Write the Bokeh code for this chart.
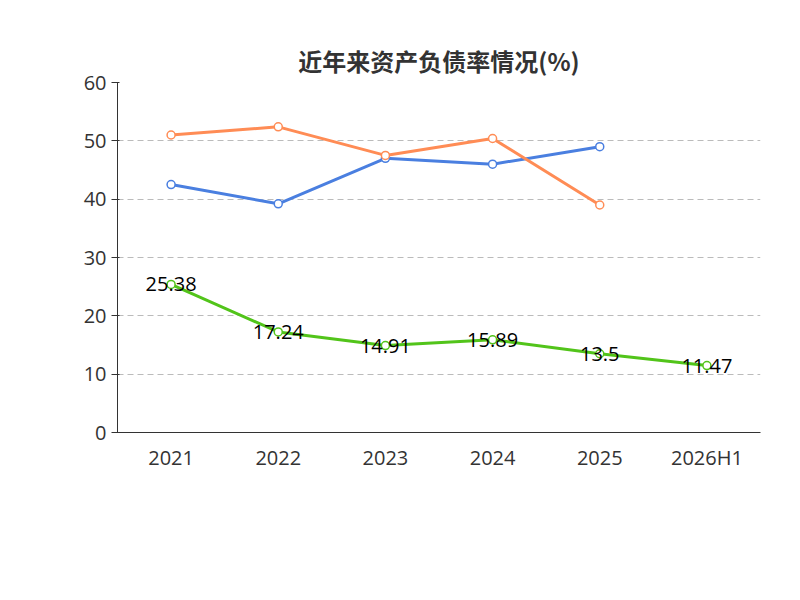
from bokeh.plotting import figure
from bokeh.models import ColumnDataSource, Legend, LegendItem, Label, FixedTicker, Range1d
from bokeh.embed import file_html
from bokeh.resources import INLINE
from bokeh.core.properties import value

years = ["2021", "2022", "2023", "2024", "2025", "2026H1"]
company = [25.38, 17.24, 14.91, 15.89, 13.5, 11.47]
industry_avg = [42.5, 39.2, 47.0, 46.0, 49.0]
industry_med = [51.0, 52.4, 47.5, 50.4, 39.0]
company_labels = ["25.38", "17.24", "14.91", "15.89", "13.5", "11.47"]

p = figure(width=784, height=584, x_range=years, y_range=Range1d(0, 60),
           output_backend="svg", toolbar_location=None,
           min_border_left=117, min_border_right=24, min_border_top=82, min_border_bottom=152)
p.outline_line_color = None
p.xgrid.grid_line_color = None
p.ygrid.grid_line_dash = "6 4"
p.ygrid.grid_line_color = "#bbbbbb"
p.yaxis.ticker = FixedTicker(ticks=[0, 10, 20, 30, 40, 50, 60])
for ax in (p.xaxis, p.yaxis):
    ax.major_label_text_font_size = "20px"
    ax.major_label_text_color = "#333333"
    ax.axis_line_color = "#333333"
    ax.major_tick_line_color = "#333333"
    ax.minor_tick_line_color = None
    ax.major_label_text_font = "Open Sans"
p.x_range.range_padding = 0
p.xaxis.major_tick_line_color = None

p.title.text = "近年来资产负债率情况(%)"
p.title.align = "center"
p.title.text_font_size = "24px"
p.title.text_color = "#333333"
p.title.text_font = "Noto Sans CJK SC"
p.title.offset = 0

s1 = ColumnDataSource(dict(x=years, y=company, t=company_labels))
s2 = ColumnDataSource(dict(x=years[:5], y=industry_avg))
s3 = ColumnDataSource(dict(x=years[:5], y=industry_med))

r1 = p.line("x", "y", source=s1, color="#52c41a", line_width=3)
c1 = p.scatter("x", "y", source=s1, size=8, fill_color="white", line_color="#52c41a", line_width=1.5)
r2 = p.line("x", "y", source=s2, color="#4a7fe0", line_width=3)
c2 = p.scatter("x", "y", source=s2, size=8, fill_color="white", line_color="#4a7fe0", line_width=1.5)
r3 = p.line("x", "y", source=s3, color="#ff8c55", line_width=3)
c3 = p.scatter("x", "y", source=s3, size=8, fill_color="white", line_color="#ff8c55", line_width=1.5)
p.text("x", "y", text="t", source=s1, text_align="center", text_baseline="middle",
       text_font_size="20px", text_color="black", text_font=value("Open Sans"))

p.add_layout(Label(x=-62, y=315, x_units="screen", y_units="screen", text="(%)",
                   angle=1.5708, text_color="red", text_font_size="16px",
                   text_align="center", text_baseline="middle"))
p.add_layout(Label(x=321, y=-150, x_units="screen", y_units="screen", text="制图数据来自恒生聚源数据库",
                   text_color="#c8961e", text_font_size="15px", text_font="Noto Sans CJK SC",
                   text_align="center", text_baseline="middle"))

leg = Legend(items=[LegendItem(label="公司资产负债率", renderers=[r1, c1]),
                    LegendItem(label="行业均值", renderers=[r2, c2]),
                    LegendItem(label="行业中位数", renderers=[r3, c3])],
             orientation="horizontal", location=(-30, -117),
             label_text_font_size="20px", label_text_color="#333333",
             label_text_font="Noto Sans CJK SC", border_line_color=None,
             background_fill_alpha=0, glyph_width=50, spacing=20, margin=0)
p.add_layout(leg, "center")

open("out.html", "w").write(file_html(p, INLINE))
